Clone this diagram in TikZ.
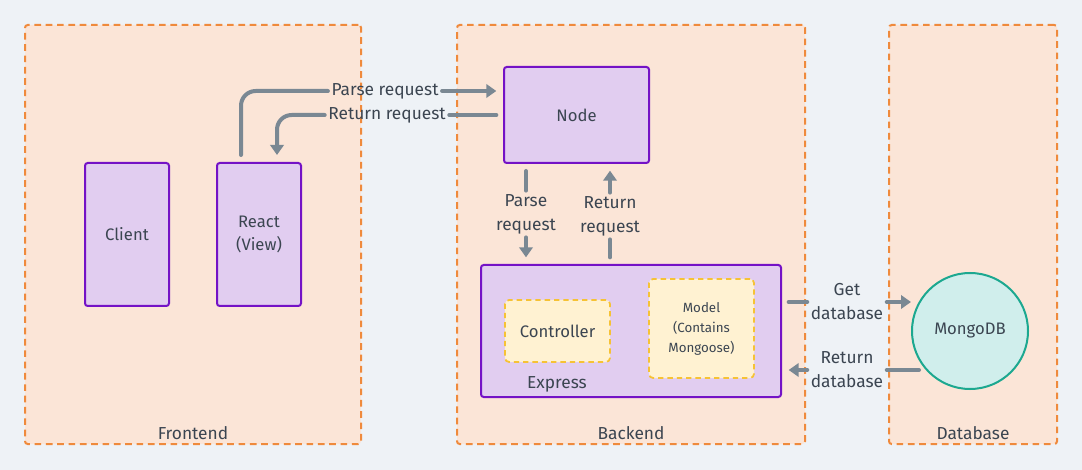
\documentclass[tikz,border=0pt]{standalone}
\usepackage{fontspec}
\setmainfont{Fira Sans}
\usepackage{tikz}
\usepackage{xcolor}
\usetikzlibrary{arrows.meta, positioning}
\definecolor{Page_Bg}{HTML}{EEF2F6}
\definecolor{Zone_Fill}{HTML}{FBE5D7}
\definecolor{Zone_Line}{HTML}{EF8A3C}
\definecolor{Box_Fill}{HTML}{E1CDF0}
\definecolor{Box_Line}{HTML}{7412C6}
\definecolor{Sub_Fill}{HTML}{FFF2D2}
\definecolor{Sub_Line}{HTML}{F6C235}
\definecolor{Db_Fill}{HTML}{D0EEEC}
\definecolor{Db_Line}{HTML}{1CA890}
\definecolor{Flow_Gray}{HTML}{7A8893}
\definecolor{Text_Ink}{HTML}{3B4551}

\tikzset{
    zone/.style={draw=Zone_Line, fill=Zone_Fill, line width=1.5pt, dash pattern=on 5pt off 3.5pt, rounded corners=2pt},
    box/.style={draw=Box_Line, fill=Box_Fill, line width=1.5pt, rounded corners=2pt, text=Text_Ink, align=center, font=\fontsize{12.5}{17}\selectfont},
    subbox/.style={draw=Sub_Line, fill=Sub_Fill, line width=1.3pt, dash pattern=on 4pt off 3pt, rounded corners=3pt, text=Text_Ink, align=center},
    flow/.style={draw=Flow_Gray, line width=3pt, line cap=round, rounded corners=11pt},
    flowtip/.style={flow, -{Triangle[length=7.5pt,width=10pt]}},
    lbl/.style={text=Text_Ink, align=center, inner sep=2.5pt, font=\fontsize{13}{18}\selectfont},
}

\begin{document}
\begin{tikzpicture}[x=0.75pt, y=-0.75pt]
    % Background
    \fill[Page_Bg] (0,0) rectangle (1082,470);

    % Zones
    \node[zone, minimum width=252pt, minimum height=314.25pt] (frontend) at (193,234.5) {};
    \node[zone, minimum width=261pt, minimum height=314.25pt] (backend) at (631,234.5) {};
    \node[zone, minimum width=126pt, minimum height=314.25pt] (database) at (973,234.5) {};
    \node[lbl] (frontendLbl) at (193,433) {Frontend};
    \node[lbl] (backendLbl) at (631,433) {Backend};
    \node[lbl] (databaseLbl) at (973,433) {Database};

    % Frontend boxes
    \node[box, minimum width=63pt, minimum height=107.25pt] (client) at (127,234.5) {Client};
    \node[box, minimum width=63pt, minimum height=107.25pt] (react) at (259,234.5) {React\\(View)};

    % Backend boxes
    \node[box, minimum width=108.75pt, minimum height=72pt] (node) at (576.5,115) {Node};
    \node[box, minimum width=225pt, minimum height=99pt] (express) at (631,331) {};
    \node[lbl] (expressLbl) at (557,384) {Express};
    \node[subbox, minimum width=78.75pt, minimum height=46.5pt, font=\fontsize{12.5}{16}\selectfont] (controller) at (557.5,331) {Controller};
    \node[subbox, minimum width=78.75pt, minimum height=74.25pt, font=\fontsize{10}{15}\selectfont] (model) at (701.5,328.5) {Model\\(Contains\\Mongoose)};

    % Database
    \node[circle, draw=Db_Line, fill=Db_Fill, line width=1.5pt, minimum size=87pt, text=Text_Ink, font=\fontsize{12.5}{15}\selectfont] (mongo) at (970,331) {MongoDB};

    % React <-> Node
    \node[lbl] (parseTop) at (385,91) {Parse request};
    \node[lbl] (returnTop) at (387,115) {Return request};
    \draw[flow] ([shift={(-13.5pt,5.25pt)}]react.north) |- (parseTop.west);
    \draw[flowtip, shorten >=5pt] (parseTop.east) -- (parseTop.east -| node.west);
    \draw[flow, shorten <=5pt] (returnTop.east -| node.west) -- (returnTop.east);
    \draw[flowtip] (returnTop.west) -| ([shift={(13.5pt,5.25pt)}]react.north);

    % Node <-> Express
    \node[lbl] (parseMid) at (526,214) {Parse\\request};
    \node[lbl] (returnMid) at (610,216) {Return\\request};
    \draw[flow, shorten <=5.25pt] (parseMid.north |- node.south) -- (parseMid.north);
    \draw[flowtip, shorten >=5pt] (parseMid.south) -- (parseMid.south |- express.north);
    \draw[flow, shorten <=5pt] (returnMid.south |- express.north) -- (returnMid.south);
    \draw[flowtip, shorten >=5pt] (returnMid.north) -- (returnMid.north |- node.south);

    % Express <-> MongoDB
    \node[lbl] (getDb) at (847,302) {Get\\database};
    \node[lbl] (returnDb) at (847,370) {Return\\database};
    \draw[flow, shorten <=5pt] (getDb.west -| express.east) -- (getDb.west);
    \draw[flowtip] (getDb.east) -- (getDb.east -| mongo.west);
    \draw[flow] ([xshift=6pt]returnDb.east -| mongo.west) -- (returnDb.east);
    \draw[flowtip, shorten >=5pt] (returnDb.west) -- (returnDb.west -| express.east);
\end{tikzpicture}
\end{document}
